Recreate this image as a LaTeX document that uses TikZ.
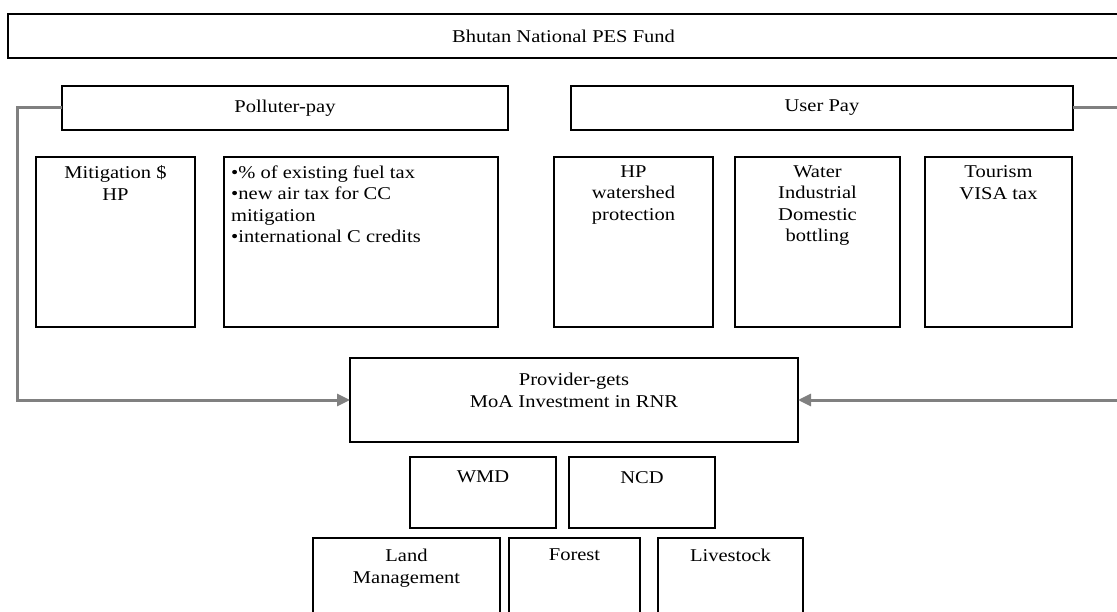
\documentclass[tikz,border=0pt]{standalone}
\usepackage{fontspec}
\setmainfont{Liberation Serif}[FakeStretch=1.14]
\usetikzlibrary{arrows.meta}

\tikzset{
  panel/.style={draw=black, line width=1.4pt, inner sep=0pt, outer sep=0pt},
  caption/.style={font=\fontsize{18}{21.5}\selectfont, align=center, inner sep=0pt},
  listtext/.style={font=\fontsize{18}{21.5}\selectfont, align=left, inner sep=0pt},
  flow/.style={draw=gray, line width=3pt,
    -{Triangle[length=13pt,width=12pt]}},
}

% box from top-left (x1,y1) to bottom-right (x2,y2), in pixel-like units
\newcommand{\panelbox}[5]{%
  \node[panel, minimum width=#4-#2, minimum height=#5-#3] (#1)
    at ({(#2+#4)/2},{(#3+#5)/2}) {};}

\begin{document}
\begin{tikzpicture}[x=1pt, y=-1pt]
  \useasboundingbox (0,0) rectangle (1117,612);
  \clip (0,0) rectangle (1117,612);

  % fund and the two payment streams
  \panelbox{fund}{8}{14}{1119}{58}
  \node[caption] (fundtxt) at (fund.center) {Bhutan National PES Fund};

  \panelbox{polluter}{62}{86}{508}{130}
  \node[caption] (pollutertxt) at (polluter.center) {Polluter-pay};

  \panelbox{userpay}{571}{86}{1073}{130}
  \node[caption] (userpaytxt) at (userpay.center) {User Pay};

  % revenue sources
  \panelbox{mitig}{36}{157}{195}{327}
  \node[caption, anchor=north] (mitigtxt) at ([yshift=-8.5]mitig.north) {Mitigation \$\\HP};

  \panelbox{fuel}{224}{157}{498}{327}
  \node[listtext, anchor=north west] (fueltxt) at ([xshift=7, yshift=-8.5]fuel.north west)
    {•\% of existing fuel tax\\•new air tax for CC\\mitigation\\•international C credits};

  \panelbox{hpws}{554}{157}{713}{327}
  \node[caption, anchor=north] (hpwstxt) at ([yshift=-8.5]hpws.north) {HP\\watershed\\protection};

  \panelbox{water}{735}{157}{900}{327}
  \node[caption, anchor=north] (watertxt) at ([yshift=-8.5]water.north) {Water\\Industrial\\Domestic\\bottling};

  \panelbox{tourism}{925}{157}{1072}{327}
  \node[caption, anchor=north] (tourismtxt) at ([yshift=-8.5]tourism.north) {Tourism\\VISA tax};

  % recipient
  \panelbox{provider}{350}{358}{798}{442}
  \node[caption, anchor=north] (providertxt) at ([yshift=-15]provider.north) {Provider-gets\\MoA Investment in RNR};

  \panelbox{wmd}{410}{457}{556}{528}
  \node[caption, anchor=north] (wmdtxt) at ([yshift=-14]wmd.north) {WMD};

  \panelbox{ncd}{569}{457}{715}{528}
  \node[caption, anchor=north] (ncdtxt) at ([yshift=-14]ncd.north) {NCD};

  \panelbox{land}{313}{538}{500}{625}
  \node[caption, anchor=north] (landtxt) at ([yshift=-11]land.north) {Land\\Management};

  \panelbox{forest}{509}{538}{640}{625}
  \node[caption, anchor=north] (foresttxt) at ([yshift=-11]forest.north) {Forest};

  \panelbox{livestock}{658}{538}{803}{625}
  \node[caption, anchor=north] (livestocktxt) at ([yshift=-11]livestock.north) {Livestock};

  % money flows into the provider
  \draw[flow] (polluter.west) -- ++(-45,0) |- (provider.west);
  \draw[flow] (userpay.east) -- ++(57,0) |- (provider.east);
\end{tikzpicture}
\end{document}
